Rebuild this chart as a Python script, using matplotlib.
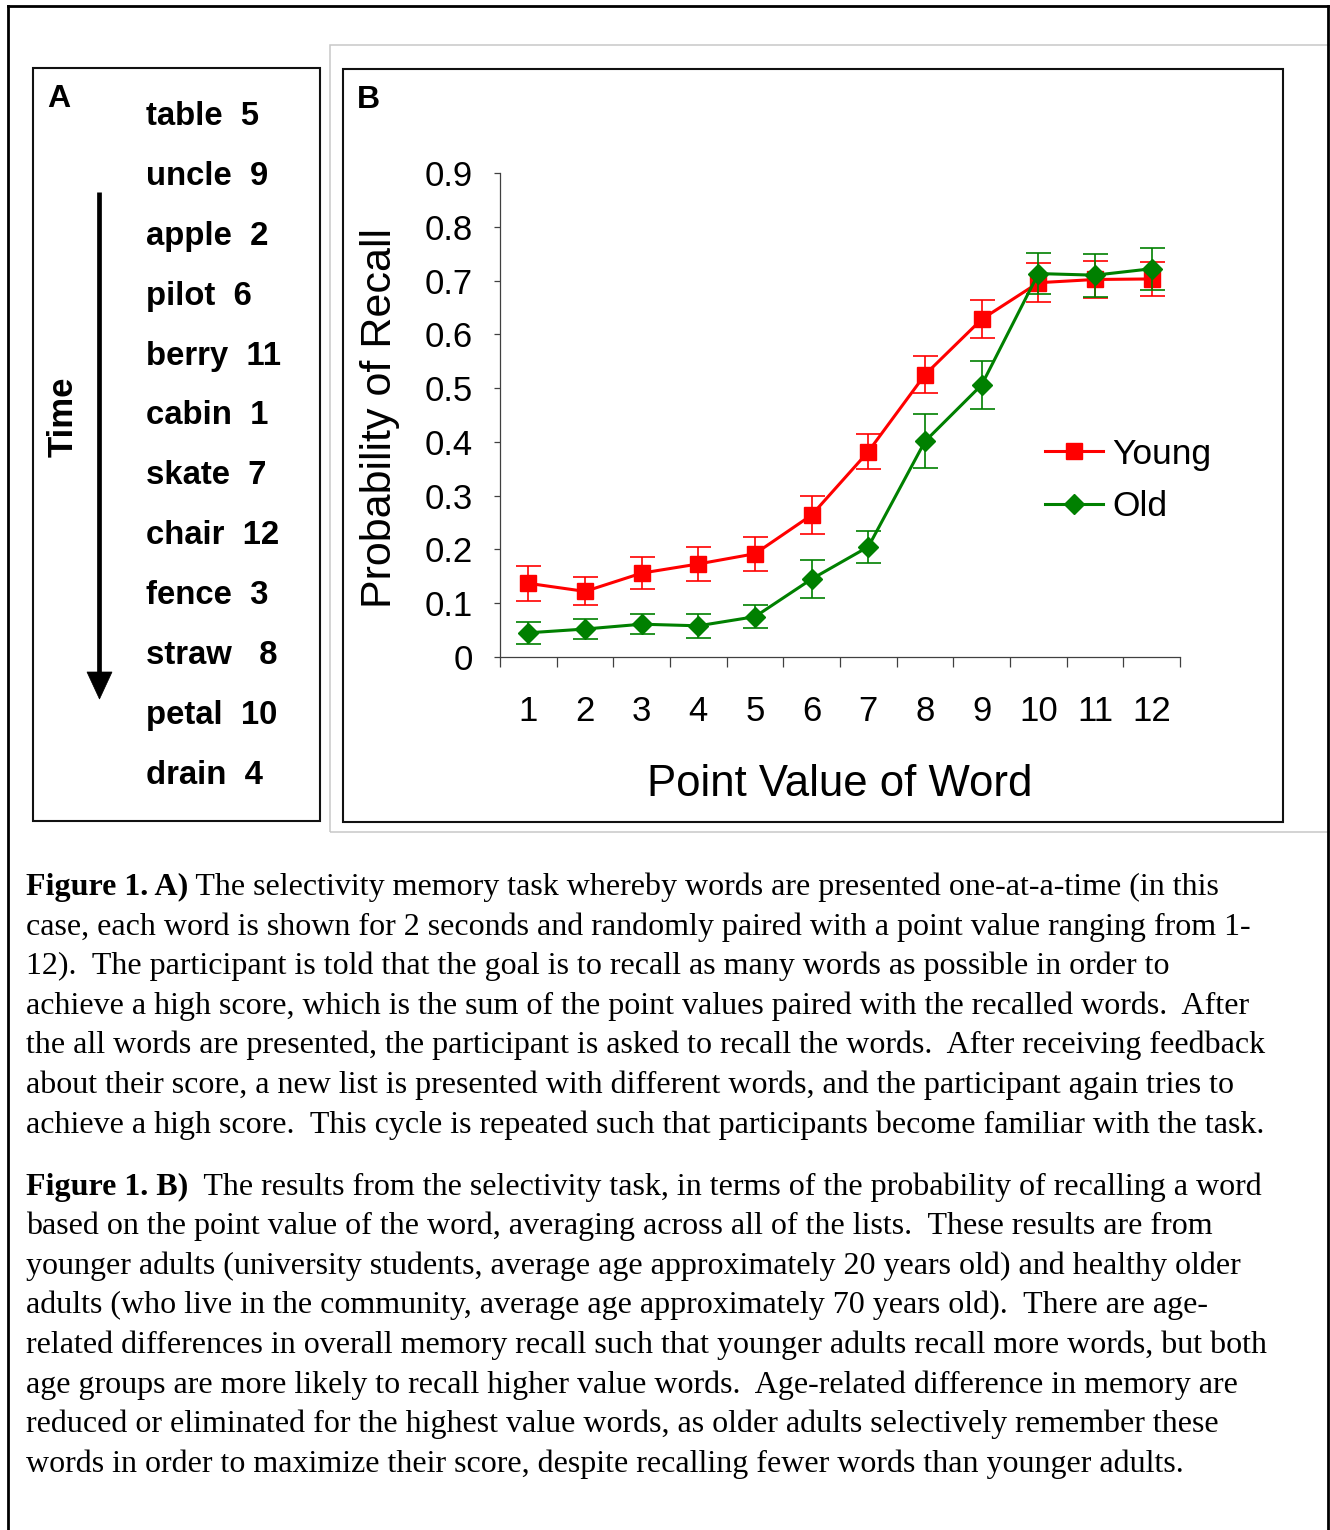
import matplotlib
matplotlib.use("Agg")
import matplotlib.pyplot as plt
from matplotlib.patches import Rectangle, Polygon
from matplotlib.lines import Line2D
import numpy as np

# ---------------- data ----------------
point_values = [1, 2, 3, 4, 5, 6, 7, 8, 9, 10, 11, 12]
young_mean = [0.137, 0.122, 0.156, 0.173, 0.192, 0.264, 0.382, 0.525, 0.628, 0.696, 0.702, 0.703]
young_err = [0.033, 0.026, 0.030, 0.031, 0.032, 0.036, 0.032, 0.035, 0.035, 0.036, 0.034, 0.032]
old_mean = [0.045, 0.052, 0.061, 0.058, 0.075, 0.145, 0.205, 0.401, 0.506, 0.713, 0.710, 0.722]
old_err = [0.020, 0.019, 0.019, 0.022, 0.022, 0.035, 0.030, 0.050, 0.045, 0.038, 0.040, 0.039]
y_ticks = [0, 0.1, 0.2, 0.3, 0.4, 0.5, 0.6, 0.7, 0.8, 0.9]
y_tick_labels = ["0", "0.1", "0.2", "0.3", "0.4", "0.5", "0.6", "0.7", "0.8", "0.9"]
series_names = ["Young", "Old"]

word_list = ["table  5", "uncle  9", "apple  2", "pilot  6", "berry  11", "cabin  1",
             "skate  7", "chair  12", "fence  3", "straw   8", "petal  10", "drain  4"]

caption_a_bold = "Figure 1. A)"
caption_a = [
    " The selectivity memory task whereby words are presented one-at-a-time (in this",
    "case, each word is shown for 2 seconds and randomly paired with a point value ranging from 1-",
    "12).  The participant is told that the goal is to recall as many words as possible in order to",
    "achieve a high score, which is the sum of the point values paired with the recalled words.  After",
    "the all words are presented, the participant is asked to recall the words.  After receiving feedback",
    "about their score, a new list is presented with different words, and the participant again tries to",
    "achieve a high score.  This cycle is repeated such that participants become familiar with the task.",
]
caption_b_bold = "Figure 1. B)"
caption_b = [
    "  The results from the selectivity task, in terms of the probability of recalling a word",
    "based on the point value of the word, averaging across all of the lists.  These results are from",
    "younger adults (university students, average age approximately 20 years old) and healthy older",
    "adults (who live in the community, average age approximately 70 years old).  There are age-",
    "related differences in overall memory recall such that younger adults recall more words, but both",
    "age groups are more likely to recall higher value words.  Age-related difference in memory are",
    "reduced or eliminated for the highest value words, as older adults selectively remember these",
    "words in order to maximize their score, despite recalling fewer words than younger adults.",
]

# ---------------- figure ----------------
W, H = 1330, 1530
fig = plt.figure(figsize=(W / 100, H / 100), dpi=100)
fig.patch.set_facecolor("white")


def fx(x):
    return x / W


def fy(y):
    return 1 - y / H


def box(x0, y0, x1, y1, lw, color):
    fig.add_artist(Rectangle((fx(x0), fy(y1)), (x1 - x0) / W, (y1 - y0) / H,
                             transform=fig.transFigure, fill=False, lw=lw, ec=color))


# outer frame (bottom edge is outside the picture)
for xs, ys in [([8, 8], [6, 1535]), ([1328, 1328], [6, 1535]), ([8, 1328], [6, 6])]:
    fig.add_artist(Line2D([fx(v) for v in xs], [fy(v) for v in ys],
                          transform=fig.transFigure, lw=2.0, color="black"))

box(330, 45, 1345, 832, 1.1, "#c8c8c8")   # light frame around panel B
box(33, 68, 320, 821, 1.5, "#111111")     # panel A
box(343, 69, 1283, 822, 1.5, "#111111")   # panel B

SANS = ["Liberation Sans", "DejaVu Sans"]
SERIF = ["Liberation Serif", "DejaVu Serif"]

# ---------------- panel A ----------------
fig.text(fx(47), fy(107), "A", fontsize=23, fontweight="bold", family=SANS,
         ha="left", va="baseline")
for i, w in enumerate(word_list):
    fig.text(fx(146), fy(125 + i * 59.9), w, fontsize=23.7, fontweight="bold",
             family=SANS, ha="left", va="baseline")
fig.text(fx(73), fy(417), "Time", fontsize=25, fontweight="bold", family=SANS,
         rotation=90, rotation_mode="anchor", ha="center", va="baseline")
fig.add_artist(Line2D([fx(99), fx(99)], [fy(192), fy(676)], transform=fig.transFigure,
                      lw=3.4, color="black", solid_capstyle="butt"))
fig.add_artist(Polygon([(fx(87), fy(672)), (fx(112), fy(672)), (fx(99.5), fy(699))],
                       closed=True, transform=fig.transFigure, fc="black", ec="black", lw=0.5))

# ---------------- panel B ----------------
fig.text(fx(357), fy(108), "B", fontsize=23, fontweight="bold", family=SANS,
         ha="left", va="baseline")

ax = fig.add_axes([fx(500), fy(657), (1180 - 500) / W, (657 - 173) / H])
ax.set_facecolor("none")
x = np.array(point_values)

c_young = ax.errorbar(x, young_mean, yerr=young_err, color="#FF0000", lw=2.2, marker="s",
                      markersize=12.2, ecolor="#FF0000", elinewidth=1.2, capsize=9, capthick=1.2,
                      label=series_names[0], zorder=3)
c_old = ax.errorbar(x, old_mean, yerr=old_err, color="#008000", lw=2.2, marker="D",
                    markersize=9.8, ecolor="#008000", elinewidth=1.2, capsize=9, capthick=1.2,
                    label=series_names[1], zorder=4)

ax.set_xlim(0.5, 12.5)
ax.set_ylim(0, 0.9)
ax.spines["top"].set_visible(False)
ax.spines["right"].set_visible(False)
for s in ["left", "bottom"]:
    ax.spines[s].set_color("#404040")
    ax.spines[s].set_linewidth(0.9)

ax.set_yticks(y_ticks)
ax.set_yticklabels(y_tick_labels, fontsize=25, family=SANS)
ax.tick_params(axis="y", direction="out", length=4.3, width=0.9, color="#404040", pad=15)

ax.set_xticks(x)
ax.set_xticklabels([str(v) for v in point_values], fontsize=25, family=SANS)
ax.set_xticks(np.arange(0.5, 13.0, 1.0), minor=True)
ax.tick_params(axis="x", which="major", length=0, pad=27.5)
ax.tick_params(axis="x", which="minor", direction="out", length=7.2, width=0.9, color="#404040")

ax.set_xlabel("Point Value of Word", fontsize=31.5, family=SANS)
ax.xaxis.set_label_coords(0.5, (657 - 764) / 484)
ax.set_ylabel("Probability of Recall", fontsize=31, family=SANS)
ax.yaxis.set_label_coords((400 - 500) / 680, (657 - 417.5) / 484)

leg = ax.legend([c_young[0], c_old[0]], series_names, loc="center left",
                bbox_to_anchor=(0.801, 0.365),
                frameon=False, prop={"family": SANS, "size": 25.5}, handlelength=1.65,
                handletextpad=0.25, labelspacing=0.55, borderpad=0, borderaxespad=0)

# ---------------- caption ----------------
renderer = fig.canvas.get_renderer()
CAP_SIZE = 23.05


def caption_para(bold, lines, y0):
    t = fig.text(fx(26), fy(y0), bold, fontsize=CAP_SIZE, fontweight="bold",
                 family=SERIF, ha="left", va="baseline")
    bb = t.get_window_extent(renderer=renderer)
    fig.text(bb.x1 / W, fy(y0), lines[0], fontsize=CAP_SIZE, family=SERIF,
             ha="left", va="baseline")
    for i, ln in enumerate(lines[1:], start=1):
        fig.text(fx(26), fy(y0 + i * 39.6), ln, fontsize=CAP_SIZE, family=SERIF,
                 ha="left", va="baseline")


caption_para(caption_a_bold, caption_a, 895)
caption_para(caption_b_bold, caption_b, 1194.5)

fig.savefig("out.png", dpi=100)
